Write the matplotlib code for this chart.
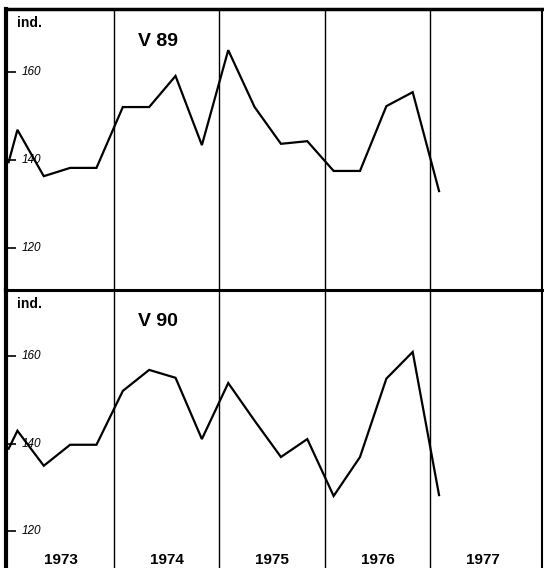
import numpy as np
import matplotlib.pyplot as plt

plt.rcParams['font.family'] = ['Liberation Sans', 'DejaVu Sans']

# sampling positions: start of record, then one value per quarter
years = [1973, 1974, 1975, 1976, 1977]
quarter_months = [1, 4, 7, 10]
x_start = 1973.0

v89_start = 139.5
v89 = [146.9, 136.3, 138.2, 138.2,
       152.1, 152.1, 159.2, 143.4,
       165.1, 152.1, 143.7, 144.3,
       137.5, 137.5, 152.3, 155.5,
       132.9]

v90_start = 138.9
v90 = [143.0, 135.0, 139.8, 139.8,
       152.1, 156.9, 155.1, 141.1,
       153.9, 145.3, 137.0, 141.1,
       128.1, 137.0, 154.9, 161.0,
       128.3]

y_ticks = [120, 140, 160]

x_quarters = []
for yr in years:
	for m in quarter_months:
		x_quarters.append(yr + m / 12.0)


def panel(ax, start, values, name, ylim, show_years):
	xs = [x_start] + x_quarters[:len(values)]
	ys = [start] + values
	ax.plot(xs, ys, color='black', lw=1.6, solid_joinstyle='miter')

	ax.set_xlim(1972.975, 1978.06)
	ax.set_ylim(*ylim)

	# year separators
	for yr in years[1:]:
		ax.axvline(yr, color='black', lw=1.0)

	ax.set_xticks([])
	ax.set_yticks(y_ticks)
	ax.tick_params(axis='y', direction='in', length=7, width=1.2, labelleft=False)
	for t in y_ticks:
		ax.text(0.03, t, str(t), transform=ax.get_yaxis_transform(),
			ha='left', va='center', fontsize=8.5, style='italic')

	ax.text(0.02, 0.975, 'ind.', transform=ax.transAxes, ha='left', va='top',
		fontsize=10, fontweight='bold')
	ax.text(1974.42, 0.885, name, transform=ax.get_xaxis_transform(),
		ha='center', va='center', fontsize=14, fontweight='bold')

	if show_years:
		for yr in years:
			ax.text(yr + 0.5, 0.03, str(yr), transform=ax.get_xaxis_transform(),
				ha='center', va='center', fontsize=11, fontweight='bold')

	ax.spines['left'].set_linewidth(3)
	ax.spines['right'].set_linewidth(1.5)


fig = plt.figure(figsize=(5.44, 5.68), dpi=100)
W, H = 544.0, 568.0

ax1 = fig.add_axes([6 / W, 1 - 290 / H, 536 / W, 281 / H])
ax2 = fig.add_axes([6 / W, 0, 536 / W, 278 / H])

panel(ax1, v89_start, v89, 'V 89', (110.3, 174.5), False)
panel(ax2, v90_start, v90, 'V 90', (111.65, 175.15), True)

ax1.spines['top'].set_linewidth(2.5)
ax1.spines['bottom'].set_visible(False)
ax2.spines['top'].set_linewidth(2.2)
ax2.spines['bottom'].set_visible(False)

plt.savefig('out.png', dpi=100)
